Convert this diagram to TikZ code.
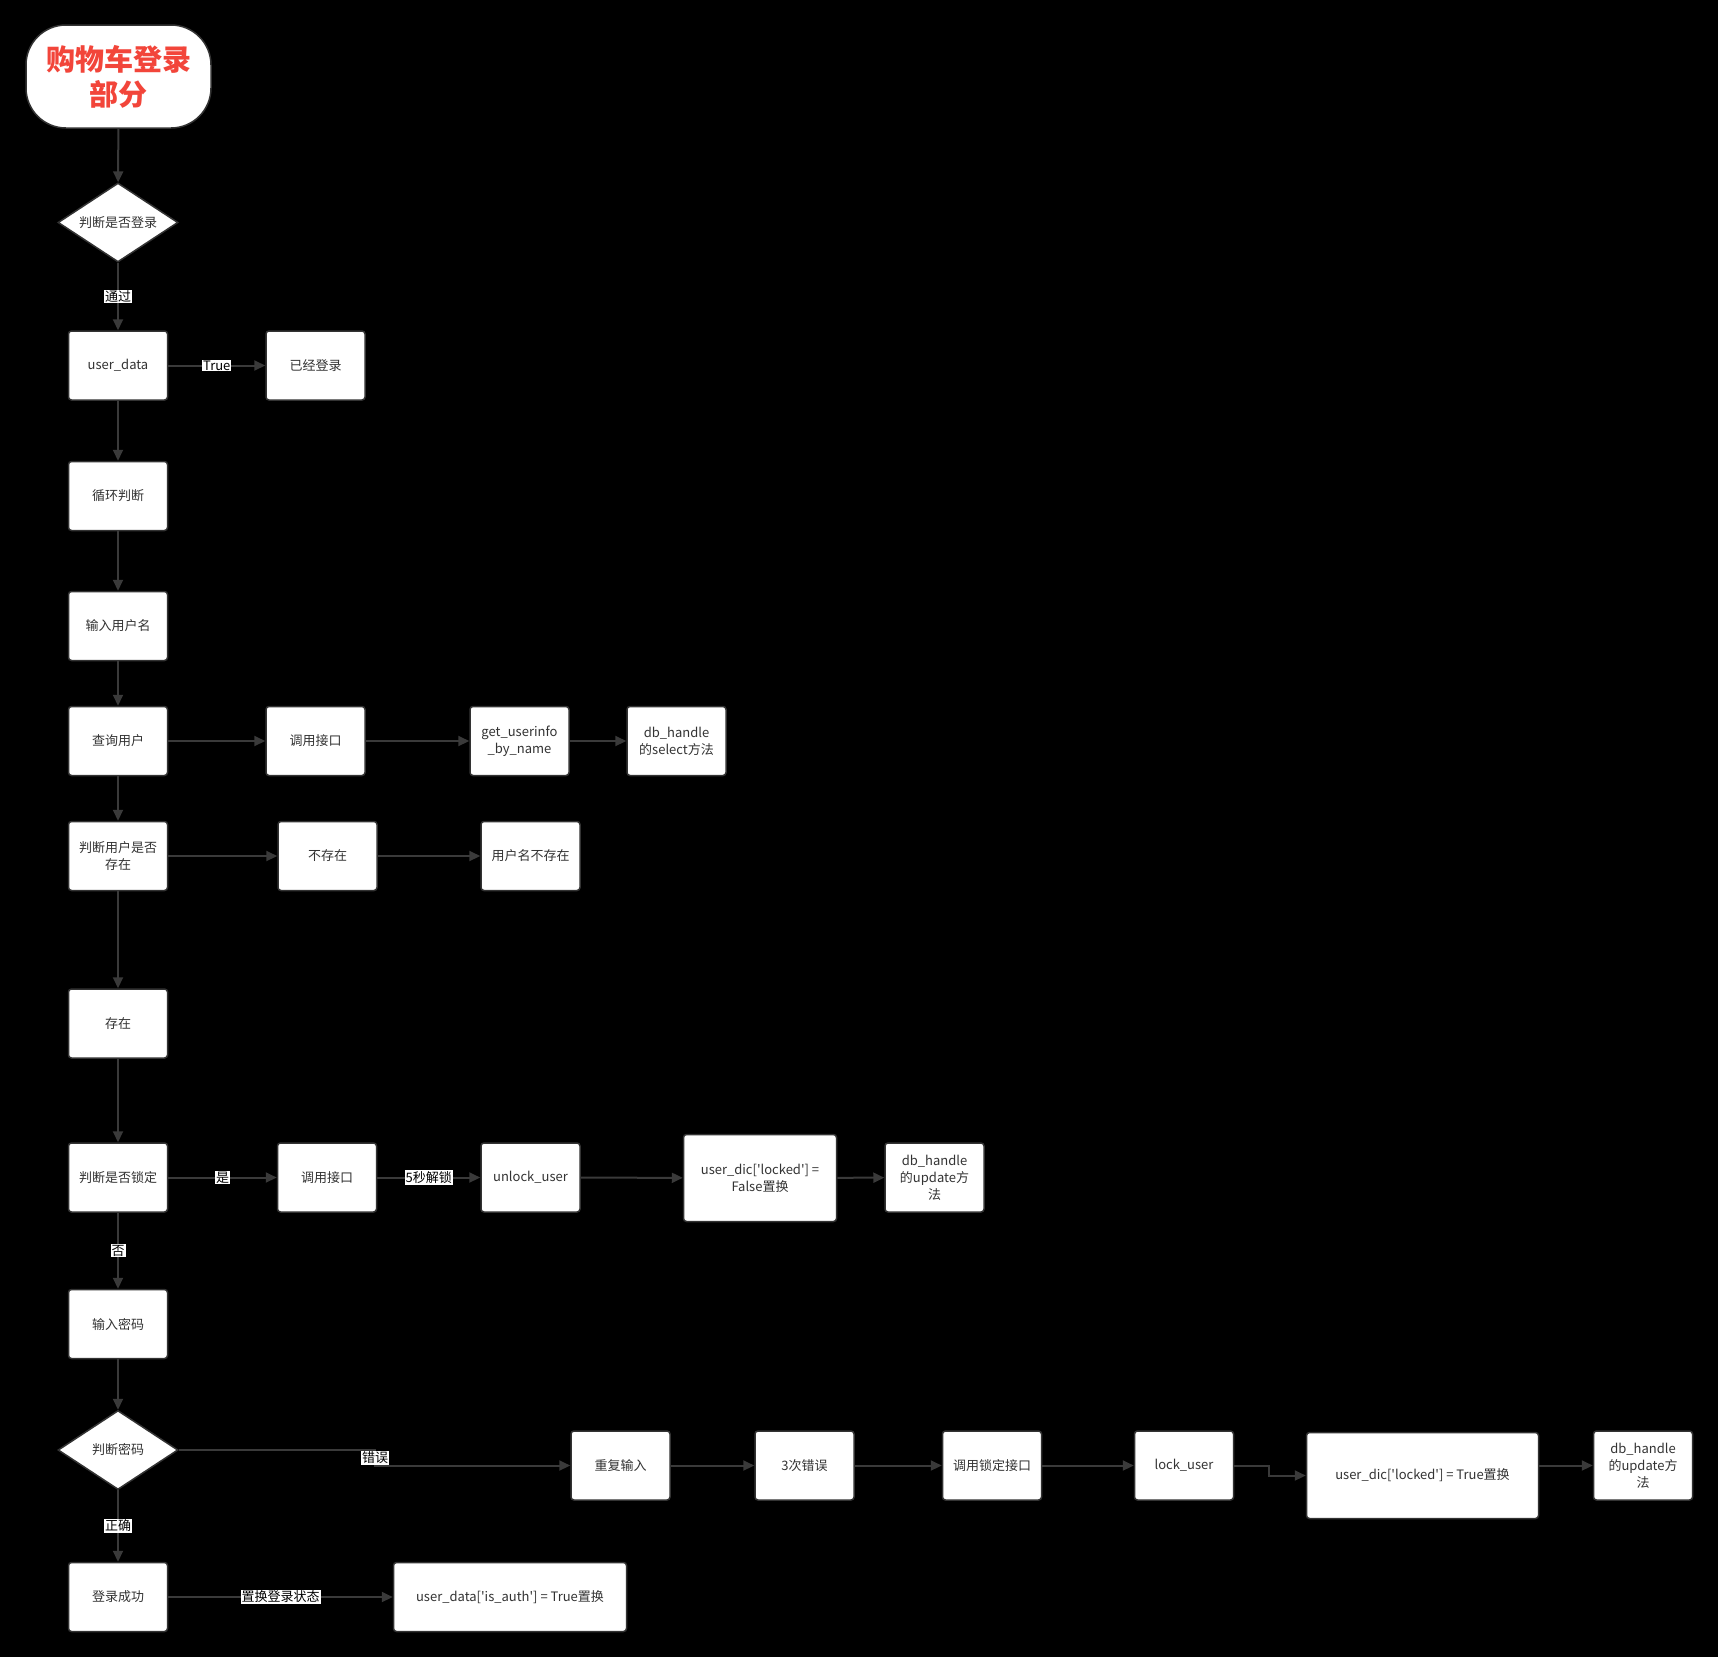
\documentclass[tikz,border=0pt]{standalone}
\usepackage{fontspec}
\setmainfont{Noto Sans CJK SC}[Ligatures=TeXOff]
\usepackage{tikz}
\usetikzlibrary{arrows.meta,shapes.geometric}
\definecolor{linegray}{HTML}{3A3A3A}
\definecolor{boxgray}{HTML}{333333}
\definecolor{textgray}{HTML}{333333}
\definecolor{titlered}{HTML}{F2453A}

\begin{document}
\begin{tikzpicture}
[x=1pt,y=-1pt,->,>={Triangle[length=11pt,width=10pt]},line width=2pt,draw=linegray,
  box/.style={rectangle,rounded corners=3pt,draw=boxgray,line width=1.5pt,fill=white,text=textgray,
    minimum width=99pt,minimum height=69pt,inner sep=2pt,align=center,font=\fontsize{13}{17}\selectfont},
  dia/.style={diamond,aspect=1.5,draw=boxgray,line width=1.5pt,fill=white,text=textgray,
    minimum width=120pt,minimum height=79pt,inner sep=0pt,font=\fontsize{13}{17}\selectfont},
  lbl/.style={fill=white,text=black,inner sep=1pt,font=\fontsize{13}{15}\selectfont}]
  \fill[black] (0,0) rectangle (1718,1657);

  \node[box,rounded corners=40pt,minimum width=185pt,minimum height=103pt,text=titlered,
    font=\fontsize{29}{35}\selectfont\bfseries] (n0) at (118.5,76.5) {购物车登录\\部分};
  \node[dia] (n1) at (118,222.5) {判断是否登录};

  \node[box] (n2) at (118,365.5) {user\_data};
  \node[box] (n2n1) at (315.5,365.5) {已经登录};

  \node[box] (n3) at (118,496) {循环判断};
  \node[box] (n4) at (118,626) {输入用户名};

  \node[box] (n5) at (118,741) {查询用户};
  \node[box] (n5n1) at (315.5,741) {调用接口};
  \node[box] (n5n2) at (519.5,741) {get\_userinfo\\\_by\_name};
  \node[box] (n5n3) at (676.5,741) {db\_handle\\的select方法};

  \node[box] (n6) at (118,856) {判断用户是否\\存在};
  \node[box] (n6n1) at (327.5,856) {不存在};
  \node[box] (n6n2) at (530.5,856) {用户名不存在};

  \node[box] (n7) at (118,1023.5) {存在};

  \node[box] (n8) at (118,1177.5) {判断是否锁定};
  \node[box] (n8n1) at (327,1177.5) {调用接口};
  \node[box] (n8n2) at (530.5,1177.5) {unlock\_user};
  \node[box,minimum width=153pt,minimum height=87pt] (n8n3) at (760,1178) {user\_dic['locked'] =\\False置换};
  \node[box] (n8n4) at (934.5,1177.5) {db\_handle\\的update方\\法};

  \node[box] (n9) at (118,1324) {输入密码};
  \node[dia] (n10) at (118,1450) {判断密码};

  \node[box] (n10n1) at (620.5,1465.5) {重复输入};
  \node[box] (n10n2) at (804.5,1465.5) {3次错误};
  \node[box] (n10n3) at (992,1465.5) {调用锁定接口};
  \node[box] (n10n4) at (1184,1465.5) {lock\_user};
  \node[box,minimum width=232pt,minimum height=86pt] (n10n5) at (1422.5,1475.5) {user\_dic['locked'] = True置换};
  \node[box] (n10n6) at (1643,1465.5) {db\_handle\\的update方\\法};

  \node[box] (n11) at (118,1597) {登录成功};
  \node[box,minimum width=233pt] (n11n1) at (510,1597) {user\_data['is\_auth'] = True置换};

  \coordinate (b1) at (375,1450);
  \coordinate (b2) at (1269,1465.5);

   \foreach \from/\to in {n0/n1,n2/n3,n3/n4,n4/n5,
      n5/n5n1,n5n1/n5n2,n5n2/n5n3,n5/n6,
      n6/n6n1,n6n1/n6n2,n6/n7,n7/n8,
      n8n2/n8n3,n8n3/n8n4,n9/n10,
      n10n1/n10n2,n10n2/n10n3,n10n3/n10n4}
     \draw (\from) -- (\to);

  \draw (n1) -- node[lbl] {通过} (n2);
  \draw (n2) -- node[lbl] {True} (n2n1);
  \draw (n8) -- node[lbl] {是} (n8n1);
  \draw (n8n1) -- node[lbl] {5秒解锁} (n8n2);
  \draw (n8) -- node[lbl] {否} (n9);
  \draw (n10.east) -- (b1) -- node[lbl] {错误} (b1 |- n10n1) -- (n10n1);
  \draw (n10) -- node[lbl] {正确} (n11);
  \draw (n11) -- node[lbl] {置换登录状态} (n11n1);
  \draw (n10n4) -- (b2) |- (n10n5);
  \draw (n10n5.east |- n10n6) -- (n10n6);

\end{tikzpicture}
\end{document}
